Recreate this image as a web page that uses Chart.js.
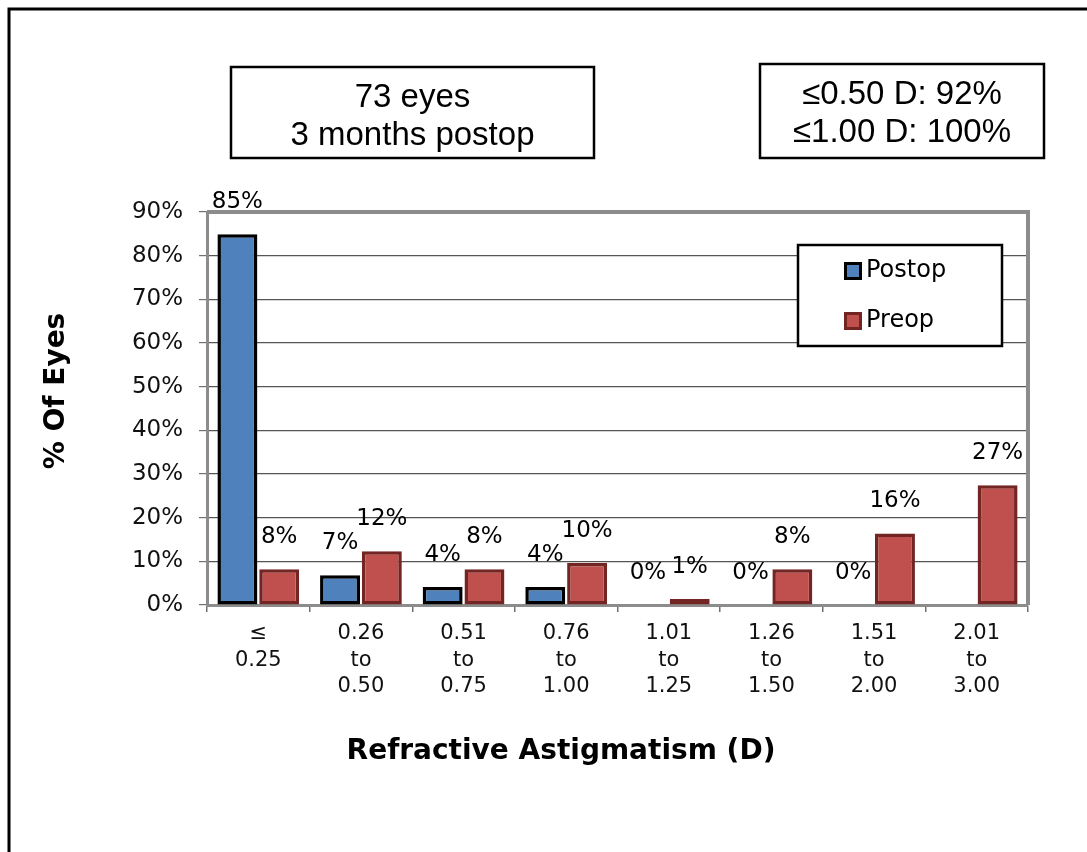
<!DOCTYPE html>
<html>
<head>
<meta charset="utf-8">
<script src="https://cdn.jsdelivr.net/npm/chart.js@4.4.1/dist/chart.umd.min.js"></script>
<style>
  html, body { margin:0; padding:0; background:#fff; }
  #wrap { width:1087px; height:852px; }
</style>
</head>
<body>
<div id="wrap"><canvas id="chart" width="1087" height="852"></canvas></div>
<script>
/* ---- data ---- */
const categories = [
  ['≤', '0.25'],
  ['0.26', 'to', '0.50'],
  ['0.51', 'to', '0.75'],
  ['0.76', 'to', '1.00'],
  ['1.01', 'to', '1.25'],
  ['1.26', 'to', '1.50'],
  ['1.51', 'to', '2.00'],
  ['2.01', 'to', '3.00']
];
const postop = [84.9, 6.8, 4.1, 4.1, 0, 0, 0, null];
const preop  = [8.2, 12.3, 8.2, 9.6, 1.4, 8.2, 16.4, 27.4];
const seriesNames = ['Postop', 'Preop'];
const yMax = 90, yStep = 10;
const noteLeft  = ['73 eyes', '3 months postop'];
const noteRight = ['≤0.50 D: 92%', '≤1.00 D: 100%'];
const xTitle = 'Refractive Astigmatism (D)';
const yTitle = '% Of Eyes';

const SANS = '"DejaVu Sans", Verdana, sans-serif';
const ARIAL = '"Liberation Sans", Arial, sans-serif';

function textBox(ctx, x, y, w, h, lines) {
  ctx.save();
  ctx.fillStyle = '#fff';
  ctx.fillRect(x, y, w, h);
  ctx.strokeStyle = '#000';
  ctx.lineWidth = 2.5;
  ctx.strokeRect(x, y, w, h);
  ctx.fillStyle = '#000';
  ctx.font = '33px ' + ARIAL;
  ctx.textAlign = 'center';
  ctx.textBaseline = 'middle';
  lines.forEach((l, i) => ctx.fillText(l, x + w / 2, y + 31 + i * 38));
  ctx.restore();
}

/* extras: frame, notes, plot border, legend, titles, value labels */
const decor = {
  id: 'decor',
  beforeDraw(chart) {
    const ctx = chart.ctx;
    ctx.save();
    ctx.fillStyle = '#fff';
    ctx.fillRect(0, 0, chart.width, chart.height);
    ctx.restore();
  },
  afterDraw(chart) {
    const ctx = chart.ctx, a = chart.chartArea;
    ctx.save();

    // outer frame (top + left)
    ctx.strokeStyle = '#000';
    ctx.lineWidth = 3;
    ctx.beginPath();
    ctx.moveTo(9, chart.height);
    ctx.lineTo(9, 9);
    ctx.lineTo(chart.width, 9);
    ctx.stroke();

    // plot border top/right
    ctx.strokeStyle = '#8c8c8c';
    ctx.lineWidth = 4;
    ctx.beginPath();
    ctx.moveTo(a.left, a.top);
    ctx.lineTo(a.right, a.top);
    ctx.lineTo(a.right, a.bottom);
    ctx.stroke();

    textBox(ctx, 231, 67, 363, 91, noteLeft);
    textBox(ctx, 760, 64, 284, 94, noteRight);

    // value labels
    ctx.fillStyle = '#000';
    ctx.font = '23px ' + SANS;
    ctx.textAlign = 'center';
    ctx.textBaseline = 'middle';
    chart.data.datasets.forEach((ds, i) => {
      chart.getDatasetMeta(i).data.forEach((bar, j) => {
        const v = ds.data[j];
        if (v === null || v === undefined) return;
        ctx.fillText(Math.round(v) + '%', bar.x, bar.y - 32);
      });
    });

    // legend
    const lx = 798, ly = 245, lw = 204, lh = 101;
    ctx.fillStyle = '#fff';
    ctx.fillRect(lx, ly, lw, lh);
    ctx.strokeStyle = '#000';
    ctx.lineWidth = 2.5;
    ctx.strokeRect(lx, ly, lw, lh);
    ctx.font = '24px ' + SANS;
    ctx.textAlign = 'left';
    chart.data.datasets.forEach((ds, i) => {
      const cy = 271 + i * 50;
      ctx.fillStyle = ds.borderColor;
      ctx.fillRect(844, cy - 9, 18, 18);
      ctx.fillStyle = ds.backgroundColor;
      ctx.fillRect(847, cy - 6, 12, 12);
      ctx.fillStyle = '#000';
      ctx.fillText(ds.label, 866, cy);
    });

    // axis titles
    ctx.font = 'bold 28px ' + SANS;
    ctx.textAlign = 'center';
    ctx.fillText(xTitle, 561, 752);
    ctx.translate(57, 391);
    ctx.rotate(-Math.PI / 2);
    ctx.fillText(yTitle, 0, 0);

    ctx.restore();
  }
};

new Chart(document.getElementById('chart'), {
  type: 'bar',
  data: {
    labels: categories,
    datasets: [
      { label: seriesNames[0], data: postop, backgroundColor: '#4f81bd', borderColor: '#000000' },
      { label: seriesNames[1], data: preop,  backgroundColor: '#c0504d', borderColor: '#722523' }
    ]
  },
  options: {
    responsive: false,
    animation: false,
    devicePixelRatio: 1,
    layout: { padding: { left: 0, top: 212, right: 59, bottom: 0 } },
    datasets: {
      bar: { borderWidth: 3.5, borderSkipped: false, categoryPercentage: 0.815, barPercentage: 0.955 }
    },
    plugins: { legend: { display: false }, tooltip: { enabled: false } },
    scales: {
      x: {
        afterFit: s => { s.height = 247; },
        grid: { drawOnChartArea: false, drawTicks: true, tickLength: 7, tickColor: '#707070', lineWidth: 1.5 },
        border: { color: '#8c8c8c', width: 3 },
        ticks: { color: '#111', padding: 9, maxRotation: 0, autoSkip: false,
                 font: { family: SANS, size: 21, lineHeight: 1.24 } }
      },
      y: {
        min: 0, max: yMax,
        afterFit: s => { s.width = 207; },
        grid: { color: '#555', lineWidth: 1.2, tickLength: 8, tickColor: '#707070' },
        border: { color: '#8c8c8c', width: 3 },
        ticks: { stepSize: yStep, padding: 16, color: '#111',
                 font: { family: SANS, size: 23 },
                 callback: v => v + '%' }
      }
    }
  },
  plugins: [decor]
});
</script>
</body>
</html>
